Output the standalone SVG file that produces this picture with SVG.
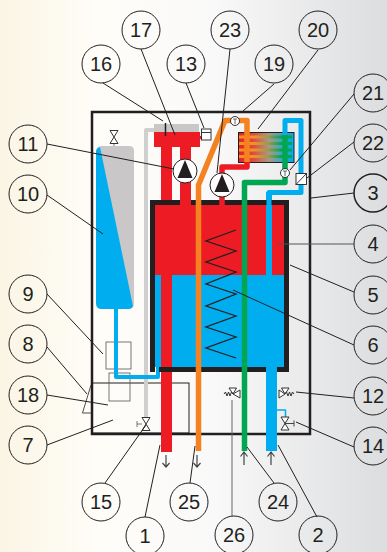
<svg xmlns="http://www.w3.org/2000/svg" width="387" height="552" viewBox="0 0 387 552">
<style>
.n circle{fill:none;stroke:#231f20;stroke-width:1}
.n text{font-family:"Liberation Sans",Arial,sans-serif;font-size:20px;fill:#231f20;text-anchor:middle}
.l path{fill:none;stroke:#231f20;stroke-width:1}
.p{fill:none;stroke-linejoin:round;stroke-linecap:butt}
.thin{fill:none;stroke:#555;stroke-width:.8}
.v{fill:#fff;stroke:#333;stroke-width:1}
.arr{fill:none;stroke:#444;stroke-width:1.2}
</style>
<defs>
<linearGradient id="bg" x1="0" x2="1" y1="0" y2="0"><stop offset="0" stop-color="#faf5e4"/><stop offset=".25" stop-color="#fffdf8"/><stop offset=".55" stop-color="#f9f9f9"/><stop offset="1" stop-color="#dcdddf"/></linearGradient>
<linearGradient id="hxa" x1="0" x2="1" y1="0" y2="0"><stop offset="0" stop-color="#ed1c24"/><stop offset=".25" stop-color="#e0483c"/><stop offset=".55" stop-color="#a89a80"/><stop offset=".85" stop-color="#1aa8d8"/><stop offset="1" stop-color="#00aeef"/></linearGradient>
<linearGradient id="hxb" x1="0" x2="1" y1="0" y2="0"><stop offset="0" stop-color="#f7941d"/><stop offset=".3" stop-color="#f09028"/><stop offset=".55" stop-color="#9c9a50"/><stop offset=".8" stop-color="#00a651"/><stop offset="1" stop-color="#00a651"/></linearGradient>
<g id="valve"><path class="v" d="M-4-6.500H4L-4 6.500H4Z"/></g>
<g id="pump"><circle r="12" fill="#fff" stroke="#231f20" stroke-width="1"/><path d="M0-11L7.500 7H-7.500Z" fill="#231f20"/></g>
<path id="dn" class="arr" d="M0 0V12M-3.500 8L0 12L3.500 8"/>
<path id="up" class="arr" d="M0 13V0M-3.500 4.500L0 0L3.500 4.500"/>
</defs>
<rect width="387" height="552" fill="url(#bg)"/>
<g id="boiler-frame"><rect x="92" y="112" width="218" height="322" fill="none" stroke="#231f20" stroke-width="2.500"/></g>
<g id="inner-shapes">
<rect x="92" y="383" width="97" height="50" class="thin" style="stroke:#231f20;stroke-width:1"/>
<path d="M91 385L82.500 413H92" class="thin" style="stroke:#231f20"/>
<rect x="106" y="342" width="25" height="27" class="thin"/>
<rect x="109" y="373" width="21" height="28" class="thin"/>
</g>
<g id="expansion-vessel">
<path d="M96 152Q96 146 102 146H129Q134 146 134 151V303Q134 309 128 309H102Q96 309 96 303Z" fill="#c9c7c7"/>
<path d="M96 152Q96 148 100 147L133 306Q132 309 128 309H102Q96 309 96 303Z" fill="#00aeef"/>
<path d="M114 142V146" class="thin"/><use href="#valve" x="114" y="137"/>
</g>
<g id="tank">
<rect x="155" y="205" width="129" height="70" fill="#ed1c24"/>
<rect x="155" y="275" width="129" height="92" fill="#00aeef"/>
</g>
<g id="pipes">
<path class="p" d="M146 418V130H154" stroke="#cfcfcf" stroke-width="4"/>
<path class="p" d="M116 309V377H158V366" stroke="#00aeef" stroke-width="4"/>
<rect x="154" y="124" width="45" height="9" fill="#c9c7c7"/>
<path d="M154 132H200V147H154ZM161 147H172V205H161ZM180 147H191V205H180ZM199 136H203V139H199Z" fill="#ed1c24"/>
<rect x="161" y="275" width="11" height="177" fill="#ed1c24"/>
<path d="M236 230L206 241L236 251L206 262L236 272L206 284L236 294L206 306L236 316L206 327L236 337L206 348L236 358" fill="none" stroke="#231f20" stroke-width="1.300"/>
<rect x="266" y="192" width="6" height="83" fill="#00aeef"/>
</g>
<g id="tank-wall">
<path d="M150 372V200H289V372H159V367H284V205H155V372Z" fill="#231f20"/>
<rect x="180" y="199" width="11" height="7" fill="#ed1c24"/>
</g>
<g id="heat-exchanger">
<rect x="238.500" y="132.500" width="55.500" height="30" fill="url(#hxa)" stroke="#231f20" stroke-width="1"/>
<rect x="239" y="135.500" width="53" height="3" fill="url(#hxb)"/>
<rect x="239" y="142" width="53" height="3" fill="url(#hxb)"/>
<rect x="239" y="148.500" width="53" height="3" fill="url(#hxb)"/>
<rect x="239" y="155" width="53" height="3" fill="url(#hxb)"/>
</g>
<g id="pipes-top">
<path class="p" d="M222 207V197M222 173V167H247V162" stroke="#ed1c24" stroke-width="5.500"/>
<path class="p" d="M198.500 451V185L225 120.500H247V162" stroke="#f58220" stroke-width="5.500"/>
<path class="p" d="M244.500 451V182.500H285V135" stroke="#00a651" stroke-width="5.500"/>
<path class="p" d="M269 275V192.500H301V120.500H285V133" stroke="#00aeef" stroke-width="5"/>
<rect x="266" y="367" width="11" height="84" fill="#00aeef"/>
<path class="p" d="M277 410H285.500V417" stroke="#00aeef" stroke-width="1.500"/>
</g>
<g id="sensors">
<g fill="#fff" stroke="#231f20" stroke-width=".9"><circle cx="235" cy="121" r="4.500"/><circle cx="285" cy="173" r="4.500"/></g>
<path d="M233 119H237M235 119V124M283 171H287M285 171V176" fill="none" stroke="#444" stroke-width=".8"/>
<rect x="296" y="173.500" width="10.500" height="11" fill="#fff" stroke="#231f20" stroke-width=".9"/>
<path d="M296 184.500L306.500 173.500" stroke="#231f20" stroke-width=".9"/>
<rect x="201.500" y="129" width="9.500" height="11" fill="#fff" stroke="#231f20" stroke-width=".9"/>
<path d="M201.500 132.500H211" stroke="#231f20" stroke-width=".9"/>
<path d="M165.500 123V136" stroke="#231f20" stroke-width="1.500"/>
</g>
<g id="pumps"><use href="#pump" x="185" y="171"/><use href="#pump" x="222" y="185"/></g>
<g id="valves">
<use href="#valve" x="146" y="424"/><path d="M137 421V427M137 424H142" class="thin"/>
<path class="v" d="M229 388H236.500L233 394ZM233 394L240 390V398Z"/><path d="M224 394L225.500 392L227 396L228.500 392L230 396L231.500 392L233 394" fill="none" stroke="#333" stroke-width="1"/>
<path class="v" d="M281.500 388H289L285 394ZM285 394L279 390V398Z"/><path d="M285 394L286.500 392L288 396L289.500 392L291 396L292.500 392L294 394" fill="none" stroke="#333" stroke-width="1"/>
<use href="#valve" x="285" y="423.500"/><path d="M285 423.500H294M294 420.500V426.500" fill="none" stroke="#444" stroke-width="1"/>
</g>
<g id="flow-arrows"><use href="#dn" x="166" y="455"/><use href="#dn" x="197" y="455"/><use href="#up" x="244" y="452"/><use href="#up" x="271" y="452"/></g>
<g id="connectors" class="l">
<path d="M103 83L163 121"/><path d="M141 49L175 135"/><path d="M186 83L204 128"/><path d="M47 144L174 169"/><path d="M47 195L103 234"/>
<path d="M230 49L217 173"/><path d="M274 84L243 111"/><path d="M318 50L258 129"/><path d="M354 94L290 170"/><path d="M354 142L307 178"/><path d="M354 193L311 198"/>
<path d="M47 294L103 354"/><path d="M47 347L87 394"/><path d="M47 395L108 405"/><path d="M47 445L113 420"/><path d="M105 483L146 425"/><path d="M145 517L160 445"/><path d="M190 483L195 446"/>
<path d="M354 244H278" style="stroke:#555"/><path d="M354 292L290 265"/><path d="M354 345L233 290"/><path d="M354 398L296 392"/><path d="M354 447L296 422"/><path d="M274 483L247 447"/><path d="M317 517L278 445"/><path d="M232 516V400" style="stroke:#666"/>
</g>
<g class="n" id="n17"><circle cx="141" cy="30" r="19"/><text x="141" y="37">17</text></g>
<g class="n" id="n23"><circle cx="230" cy="30" r="19"/><text x="230" y="37">23</text></g>
<g class="n" id="n20"><circle cx="318" cy="30" r="19"/><text x="318" y="37">20</text></g>
<g class="n" id="n16"><circle cx="101" cy="64" r="19"/><text x="101" y="71">16</text></g>
<g class="n" id="n13"><circle cx="186" cy="64" r="19"/><text x="186" y="71">13</text></g>
<g class="n" id="n19"><circle cx="274" cy="64" r="19"/><text x="274" y="71">19</text></g>
<g class="n" id="n21"><circle cx="373" cy="93" r="19"/><text x="373" y="100">21</text></g>
<g class="n" id="n22"><circle cx="373" cy="143" r="19"/><text x="373" y="150">22</text></g>
<g class="n" id="n3"><circle cx="373" cy="193" r="19" style="stroke-width:1.500"/><text x="373" y="200">3</text></g>
<g class="n" id="n4"><circle cx="373" cy="244" r="19"/><text x="373" y="251">4</text></g>
<g class="n" id="n5"><circle cx="373" cy="295" r="19"/><text x="373" y="302">5</text></g>
<g class="n" id="n6"><circle cx="373" cy="345" r="19"/><text x="373" y="352">6</text></g>
<g class="n" id="n12"><circle cx="373" cy="396" r="19"/><text x="373" y="403">12</text></g>
<g class="n" id="n14"><circle cx="373" cy="446" r="19"/><text x="373" y="453">14</text></g>
<g class="n" id="n11"><circle cx="28" cy="144" r="19"/><text x="28" y="151">11</text></g>
<g class="n" id="n10"><circle cx="28" cy="194" r="19"/><text x="28" y="201">10</text></g>
<g class="n" id="n9"><circle cx="28" cy="294" r="19"/><text x="28" y="301">9</text></g>
<g class="n" id="n8"><circle cx="28" cy="344" r="19"/><text x="28" y="351">8</text></g>
<g class="n" id="n18"><circle cx="28" cy="395" r="19"/><text x="28" y="402">18</text></g>
<g class="n" id="n7"><circle cx="28" cy="445" r="19"/><text x="28" y="452">7</text></g>
<g class="n" id="n15"><circle cx="101" cy="502" r="19"/><text x="101" y="509">15</text></g>
<g class="n" id="n25"><circle cx="189" cy="502" r="19"/><text x="189" y="509">25</text></g>
<g class="n" id="n24"><circle cx="278" cy="502" r="19"/><text x="278" y="509">24</text></g>
<g class="n" id="n1"><circle cx="145" cy="536" r="19"/><text x="145" y="543">1</text></g>
<g class="n" id="n26"><circle cx="234" cy="535" r="19"/><text x="234" y="542">26</text></g>
<g class="n" id="n2"><circle cx="318" cy="535" r="19"/><text x="318" y="542">2</text></g>
</svg>
